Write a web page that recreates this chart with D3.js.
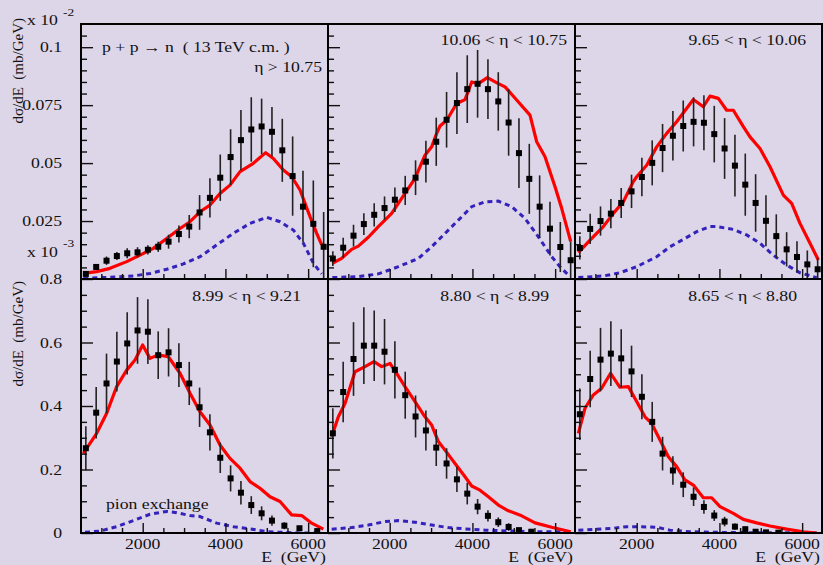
<!DOCTYPE html>
<html>
<head>
<meta charset="utf-8">
<script src="https://cdn.jsdelivr.net/npm/d3@7"></script>
<style>
  body { margin: 0; background: #ddd5e8; }
  text { font-family: "Liberation Serif", "Times New Roman", serif; fill: #111; white-space: pre; }
</style>
</head>
<body>
<div id="chart"></div>
<script>
// bin centres (GeV)
var eTop = [625, 875, 1125, 1375, 1625, 1875, 2125, 2375, 2625, 2875, 3125, 3375,
  3625, 3875, 4125, 4375, 4625, 4875, 5125, 5375, 5625, 5875, 6125, 6375];
var eBot = [625, 875, 1125, 1375, 1625, 1875, 2125, 2375, 2625, 2875, 3125, 3375,
  3625, 3875, 4125, 4375, 4625, 4875, 5125, 5425, 5790, 6220];

var etaLabels = ["η > 10.75", "10.06 < η < 10.75", "9.65 < η < 10.06",
  "8.99 < η < 9.21", "8.80 < η < 8.99", "8.65 < η < 8.80"];

// data points (top row x 10^-2, bottom row x 10^-3)
var pts1 = [0.0022, 0.0052, 0.0079, 0.0099, 0.0111, 0.0115, 0.0126, 0.0139, 0.0161, 0.0194, 0.0226, 0.0287,
  0.035, 0.0437, 0.0526, 0.0599, 0.0645, 0.0658, 0.0635, 0.0555, 0.0444, 0.0312, 0.0238, 0.0139];
var err1 = [0.001, 0.0013, 0.0018, 0.0017, 0.0022, 0.0022, 0.002, 0.0022, 0.003, 0.0037, 0.005, 0.0075,
  0.0085, 0.01, 0.012, 0.013, 0.0139, 0.012, 0.0107, 0.0136, 0.0171, 0.0155, 0.0187, 0.015];
var pts2 = [0.0088, 0.0135, 0.0187, 0.0237, 0.0277, 0.0306, 0.0342, 0.0382, 0.0437, 0.0506, 0.0592, 0.0687,
  0.0759, 0.0819, 0.0842, 0.0819, 0.0766, 0.0675, 0.0543, 0.0432, 0.0312, 0.0217, 0.0138, 0.0081];
var err2 = [0.0032, 0.0043, 0.0047, 0.0047, 0.005, 0.005, 0.0053, 0.0063, 0.0075, 0.009, 0.0104, 0.012,
  0.0133, 0.0146, 0.0146, 0.0129, 0.0126, 0.0143, 0.015, 0.0151, 0.0135, 0.0116, 0.0108, 0.008];
var pts3 = [0.0134, 0.0216, 0.025, 0.0282, 0.0328, 0.0378, 0.044, 0.0501, 0.0565, 0.0618, 0.066, 0.0678,
  0.0674, 0.0625, 0.0563, 0.0489, 0.0407, 0.0328, 0.0251, 0.0185, 0.0128, 0.0095, 0.0063, 0.0042];
var err3 = [0.005, 0.0065, 0.0063, 0.0063, 0.0065, 0.0072, 0.0083, 0.0097, 0.0104, 0.0107, 0.011, 0.0106,
  0.0119, 0.0122, 0.0131, 0.0133, 0.0134, 0.0124, 0.011, 0.0094, 0.0074, 0.0068, 0.006, 0.005];
var pts4 = [0.267, 0.379, 0.471, 0.54, 0.597, 0.638, 0.634, 0.56, 0.569, 0.529, 0.471, 0.396,
  0.317, 0.237, 0.172, 0.127, 0.088, 0.062, 0.039, 0.023, 0.015, 0.006];
var err4 = [0.069, 0.081, 0.094, 0.094, 0.098, 0.105, 0.102, 0.075, 0.076, 0.069, 0.068, 0.062,
  0.057, 0.048, 0.041, 0.037, 0.028, 0.022, 0.016, 0.011, 0.006, 0.004];
var pts5 = [0.314, 0.444, 0.548, 0.59, 0.59, 0.571, 0.514, 0.434, 0.367, 0.323, 0.269, 0.219,
  0.169, 0.124, 0.083, 0.054, 0.034, 0.019, 0.009, 0.004];
var err5 = [0.079, 0.095, 0.116, 0.121, 0.111, 0.103, 0.09, 0.074, 0.066, 0.063, 0.058, 0.048,
  0.04, 0.034, 0.024, 0.018, 0.015, 0.012, 0.006, 0.004];
var pts6 = [0.374, 0.485, 0.546, 0.565, 0.55, 0.509, 0.429, 0.35, 0.25, 0.197, 0.152, 0.114,
  0.082, 0.055, 0.036, 0.02, 0.012, 0.004, 0.002, 0.001];
var err6 = [0.081, 0.089, 0.1, 0.102, 0.092, 0.081, 0.071, 0.063, 0.053, 0.045, 0.039, 0.029,
  0.021, 0.017, 0.015, 0.01, 0.008, 0.005, 0.004, 0.003];

// model curves [E, value]
var fit1 = [[564, 0.0024], [887, 0.0032], [1209, 0.0046], [1613, 0.0075], [1935, 0.0103], [2256, 0.0132],
  [2580, 0.0175], [2902, 0.0218], [3144, 0.0247], [3386, 0.029], [3627, 0.0319], [3869, 0.0369],
  [4111, 0.0405], [4353, 0.0463], [4674, 0.0499], [4974, 0.0545], [5158, 0.052], [5400, 0.047],
  [5603, 0.0441], [5804, 0.0384], [6045, 0.0269], [6207, 0.0197], [6328, 0.0147]];
var pion1 = [[564, 0.0003], [1128, 0.0007], [1773, 0.0013], [2176, 0.0024], [2580, 0.0042], [2983, 0.0065],
  [3386, 0.0096], [3789, 0.0147], [4192, 0.0197], [4595, 0.024], [4998, 0.0266], [5320, 0.0247],
  [5643, 0.0211], [5885, 0.0154], [6127, 0.0068], [6328, 0.0022]];
var fit2 = [[613, 0.0068], [838, 0.0089], [1080, 0.0128], [1241, 0.0142], [1483, 0.018], [1725, 0.0226],
  [2047, 0.0283], [2370, 0.0369], [2612, 0.0434], [2853, 0.0534], [3015, 0.057], [3136, 0.0628],
  [3216, 0.066], [3378, 0.0685], [3619, 0.0757], [3821, 0.0774], [3982, 0.085], [4143, 0.0843],
  [4361, 0.0869], [4627, 0.0843], [4788, 0.0829], [5070, 0.0772], [5392, 0.0707], [5554, 0.0592],
  [5755, 0.0527], [5997, 0.0398], [6158, 0.0305], [6376, 0.0161]];
var pion2 = [[613, 0.0006], [1241, 0.001], [1725, 0.0022], [2208, 0.0053], [2692, 0.0089], [3015, 0.0139],
  [3418, 0.0211], [3660, 0.0254], [3982, 0.0312], [4305, 0.0333], [4627, 0.0336], [4950, 0.0312],
  [5272, 0.0261], [5594, 0.0182], [5917, 0.0096], [6118, 0.0053], [6320, 0.0017]];
var fit3 = [[589, 0.0114], [871, 0.0168], [1193, 0.0226], [1435, 0.0283], [1677, 0.0333], [1918, 0.042],
  [1999, 0.0441], [2241, 0.0491], [2483, 0.057], [2725, 0.0628], [2966, 0.0678], [3369, 0.0774],
  [3611, 0.0743], [3772, 0.0789], [3974, 0.0779], [4175, 0.0728], [4336, 0.0728], [4578, 0.0657],
  [4739, 0.0613], [4981, 0.0563], [5223, 0.0484], [5545, 0.0362], [5747, 0.0326], [5948, 0.024],
  [6190, 0.0154], [6392, 0.0082]];
var pion3 = [[589, 0.0006], [1193, 0.0013], [1596, 0.0027], [1999, 0.0053], [2483, 0.0096], [2805, 0.0139],
  [3128, 0.0171], [3450, 0.0204], [3772, 0.0226], [3934, 0.0226], [4336, 0.0214], [4659, 0.019],
  [4981, 0.0154], [5303, 0.0103], [5626, 0.006], [5948, 0.0027], [6351, 0.0006]];
var fit4 = [[564, 0.251], [887, 0.314], [1129, 0.377], [1370, 0.461], [1612, 0.513], [1814, 0.545],
  [1999, 0.592], [2176, 0.55], [2378, 0.561], [2620, 0.555], [2902, 0.503], [3144, 0.44],
  [3385, 0.382], [3627, 0.34], [3869, 0.277], [4111, 0.235], [4353, 0.204], [4595, 0.162],
  [4836, 0.141], [5078, 0.114], [5320, 0.099], [5602, 0.057], [5844, 0.055], [6086, 0.031], [6368, 0.012]];
var pion4 = [[605, 0.002], [967, 0.006], [1370, 0.02], [1774, 0.039], [2176, 0.059], [2580, 0.068],
  [2822, 0.064], [3144, 0.055], [3385, 0.052], [3789, 0.031], [4191, 0.02], [4595, 0.013],
  [4998, 0.004], [5401, 0.002], [5803, 0.0], [6287, 0.0]];
var fit5 = [[597, 0.303], [758, 0.366], [919, 0.408], [1161, 0.508], [1403, 0.524], [1620, 0.54],
  [1806, 0.524], [2007, 0.534], [2168, 0.503], [2370, 0.461], [2612, 0.414], [2853, 0.366],
  [3015, 0.34], [3176, 0.288], [3337, 0.261], [3579, 0.219], [3821, 0.177], [3982, 0.148],
  [4183, 0.135], [4385, 0.114], [4627, 0.088], [4869, 0.07], [5191, 0.054], [5514, 0.032],
  [5917, 0.018], [6376, 0.004]];
var pion5 = [[597, 0.012], [1080, 0.017], [1483, 0.025], [1886, 0.036], [2208, 0.039], [2612, 0.034],
  [3015, 0.025], [3418, 0.017], [3821, 0.013], [4305, 0.009], [4950, 0.006], [5594, 0.004], [6376, 0.004]];
var fit6 = [[589, 0.314], [750, 0.393], [951, 0.435], [1153, 0.456], [1369, 0.503], [1595, 0.459],
  [1797, 0.461], [1999, 0.414], [2200, 0.366], [2362, 0.345], [2563, 0.293], [2765, 0.24],
  [2966, 0.209], [3168, 0.167], [3369, 0.151], [3611, 0.111], [3813, 0.111], [4014, 0.083],
  [4336, 0.062], [4578, 0.043], [4900, 0.032], [5223, 0.022], [5626, 0.012], [6029, 0.004], [6351, 0.0]];
var pion6 = [[589, 0.009], [1032, 0.012], [1435, 0.015], [1757, 0.02], [1999, 0.02], [2483, 0.018],
  [2805, 0.009], [3289, 0.004], [4014, 0.002], [4820, 0.001], [5626, 0.001], [6351, 0.0]];

var topMajor = [0.025, 0.05, 0.075, 0.1];
var topMinor = [0.005, 0.01, 0.015, 0.02, 0.03, 0.035, 0.04, 0.045, 0.055, 0.06, 0.065, 0.07,
  0.08, 0.085, 0.09, 0.095, 0.105];
var botMajor = [0, 0.2, 0.4, 0.6, 0.8];
var botMinor = [0.05, 0.1, 0.15, 0.25, 0.3, 0.35, 0.45, 0.5, 0.55, 0.65, 0.7, 0.75];
var xMajor = [2000, 4000, 6000];
var xMinor = [1000, 1500, 2500, 3000, 3500, 4500, 5000, 5500];

var panels = [
  { pts: pts1, err: err1, e: eTop, fit: fit1, pion: pion1 },
  { pts: pts2, err: err2, e: eTop, fit: fit2, pion: pion2 },
  { pts: pts3, err: err3, e: eTop, fit: fit3, pion: pion3 },
  { pts: pts4, err: err4, e: eBot, fit: fit4, pion: pion4 },
  { pts: pts5, err: err5, e: eBot, fit: fit5, pion: pion5 },
  { pts: pts6, err: err6, e: eBot, fit: fit6, pion: pion6 }
];

var W = 823, H = 565;
var colX = [81, 328, 575], panelW = 247;
var rowY = [24, 279], panelH = [255, 254];
var etaRight = [322, 567, 806, 301, 549, 797];
var etaBase = [72, 45, 45, 301, 301, 301];
var sx = 1.22; // text in the original is stretched sideways

var svg = d3.select("#chart").append("svg").attr("width", W).attr("height", H);
svg.append("rect").attr("width", W).attr("height", H).attr("fill", "#ddd5e8");

function label(x, y, str, anchor, size) {
  return svg.append("text")
    .attr("transform", `translate(${x},${y}) scale(${sx},1)`)
    .attr("text-anchor", anchor || "start")
    .style("font-size", (size || 14.5) + "px")
    .text(str);
}

var line = d3.line();

panels.forEach(function (p, i) {
  var col = i % 3, row = Math.floor(i / 3);
  var x0 = colX[col], y0 = rowY[row], h = panelH[row];
  var x = d3.scaleLinear([508, 6480], [x0, x0 + panelW]);
  var y = row == 0
    ? d3.scaleLinear([0, 0.11], [y0 + h, y0])
    : d3.scaleLinear([0, 0.8], [y0 + h, y0]);

  svg.append("clipPath").attr("id", "clip" + i)
    .append("rect").attr("x", x0).attr("y", y0).attr("width", panelW).attr("height", h);
  var g = svg.append("g").attr("clip-path", `url(#clip${i})`);

  // ticks
  var maj = row == 0 ? topMajor : botMajor, mnr = row == 0 ? topMinor : botMinor;
  [[maj, -12], [mnr, -6]].forEach(function (t) {
    svg.append("g").attr("transform", `translate(${x0},0)`)
      .call(d3.axisLeft(y).tickValues(t[0]).tickSize(t[1]).tickFormat(""))
      .call((a) => a.select(".domain").remove())
      .selectAll("line").attr("stroke", "#111").attr("stroke-width", 1.4);
  });
  [[xMajor, -10], [xMinor, -5]].forEach(function (t) {
    svg.append("g").attr("transform", `translate(0,${y0 + h})`)
      .call(d3.axisBottom(x).tickValues(t[0]).tickSize(t[1]).tickFormat(""))
      .call((a) => a.select(".domain").remove())
      .selectAll("line").attr("stroke", "#111").attr("stroke-width", 1.4);
  });

  // pion exchange
  g.append("path")
    .attr("d", line(p.pion.map((d) => [x(d[0]), y(d[1])])))
    .attr("fill", "none").attr("stroke", "#3322bb")
    .attr("stroke-width", 3).attr("stroke-dasharray", "5,4");

  // full model
  g.append("path")
    .attr("d", line(p.fit.map((d) => [x(d[0]), y(d[1])])))
    .attr("fill", "none").attr("stroke", "#ff0000")
    .attr("stroke-width", 3.2).attr("stroke-linejoin", "round");

  // data
  g.selectAll(".err").data(p.pts).join("line")
    .attr("x1", (d, k) => x(p.e[k])).attr("x2", (d, k) => x(p.e[k]))
    .attr("y1", (d, k) => y(d + p.err[k])).attr("y2", (d, k) => y(d - p.err[k]))
    .attr("stroke", "#222").attr("stroke-width", 1.6);
  g.selectAll(".pt").data(p.pts).join("rect")
    .attr("x", (d, k) => x(p.e[k]) - 3).attr("y", (d) => y(d) - 3)
    .attr("width", 6).attr("height", 6).attr("fill", "#000");

  // labels
  if (col == 0) {
    maj.forEach(function (v) {
      if (row == 0 || v != 0.8) label(62, y(v) + 5, String(v), "end");
    });
    if (row == 0) label(62, 284, "0.8", "end");
  }
  if (row == 1) {
    xMajor.forEach(function (v) { label(x(v), 549, String(v), "middle"); });
    label(x0 + panelW - 2, 562, "E  (GeV)", "end");
  }
  label(etaRight[i], etaBase[i], etaLabels[i], "end");
});

// frame
svg.append("rect").attr("x", 81).attr("y", 24).attr("width", 741).attr("height", 509)
  .attr("fill", "none").attr("stroke", "#000").attr("stroke-width", 2);
[328, 575].forEach(function (v) {
  svg.append("line").attr("x1", v).attr("x2", v).attr("y1", 24).attr("y2", 533)
    .attr("stroke", "#000").attr("stroke-width", 2);
});
svg.append("line").attr("x1", 81).attr("x2", 822).attr("y1", 279).attr("y2", 279)
  .attr("stroke", "#000").attr("stroke-width", 2);

label(102, 52, "p + p → n  ( 13 TeV c.m. )");
label(106, 509, "pion exchange");

// exponents
label(27, 25, "x 10");
label(63, 16, "-2", "start", 11);
label(27, 257, "x 10");
label(63, 247, "-3", "start", 11);

// y titles
[18, 281].forEach(function (t) {
  svg.append("text")
    .attr("transform", `translate(22.5,${t}) rotate(-90)`)
    .attr("text-anchor", "end")
    .style("font-size", "15px")
    .text("dσ/dE  (mb/GeV)");
});
</script>
</body>
</html>
